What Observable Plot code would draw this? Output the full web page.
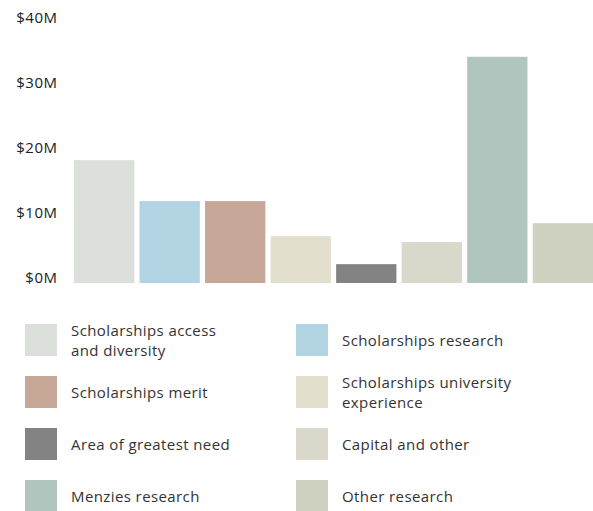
<!DOCTYPE html>
<html>
<head>
<meta charset="utf-8">
<script src="https://cdn.jsdelivr.net/npm/d3@7"></script>
<script src="https://cdn.jsdelivr.net/npm/@observablehq/plot@0.6"></script>
<style>
  html, body { margin: 0; padding: 0; background: #fff; }
  body { width: 593px; font-family: "Open Sans", sans-serif; }
  #legend {
    display: grid;
    grid-template-columns: 271px 297px;
    grid-auto-rows: 52px;
    margin-left: 25px;
    margin-top: 34px;
  }
  .item { display: flex; align-items: flex-start; }
  .sw { width: 32px; height: 32px; flex: none; }
  .lab { margin-left: 14px; font-size: 15px; line-height: 20px; letter-spacing: 0.4px; color: #333; height: 32px; display: flex; align-items: center; }
  .c0 .lab { max-width: 160px; }
  .c1 .lab { max-width: 190px; }
</style>
</head>
<body>
<div id="chart"></div>
<div id="legend"></div>
<script>
const categories = [
  "Scholarships access and diversity",
  "Scholarships research",
  "Scholarships merit",
  "Scholarships university experience",
  "Area of greatest need",
  "Capital and other",
  "Menzies research",
  "Other research"
];
const values = [18.9, 12.6, 12.6, 7.2, 2.9, 6.3, 34.8, 9.2];
const colors = ["#dbe0db", "#b2d3e1", "#c7a797", "#e2dfcc", "#838383", "#dad7cb", "#b0c5bd", "#cfd2c1"];
const yTicks = [0, 10, 20, 30, 40];

const data = categories.map((c, i) => ({category: c, value: values[i]}));

const chart = Plot.plot({
  width: 593,
  height: 290,
  marginLeft: 74,
  marginRight: 0,
  marginTop: 23,
  marginBottom: 7,
  style: {fontFamily: "Open Sans, sans-serif", fontSize: "15px", color: "#222", background: "#fff", letterSpacing: "0.5px"},
  x: {domain: categories, paddingInner: 0.08, paddingOuter: 0, round: false, axis: null},
  y: {domain: [0, 40]},
  color: {domain: categories, range: colors},
  marks: [
    Plot.barY(data, {x: "category", y: "value", fill: "category"}),
    Plot.axisY({ticks: yTicks, tickFormat: d => `$${d}M`, tickSize: 0, tickPadding: 17, fontSize: 15, dy: -5, label: null})
  ]
});
document.getElementById("chart").appendChild(chart);

const legend = document.getElementById("legend");
categories.forEach((c, i) => {
  const item = document.createElement("div");
  item.className = "item c" + (i % 2);
  const sw = document.createElement("div");
  sw.className = "sw";
  sw.style.background = colors[i];
  const lab = document.createElement("div");
  lab.className = "lab";
  lab.textContent = c;
  item.appendChild(sw);
  item.appendChild(lab);
  legend.appendChild(item);
});
</script>
</body>
</html>
